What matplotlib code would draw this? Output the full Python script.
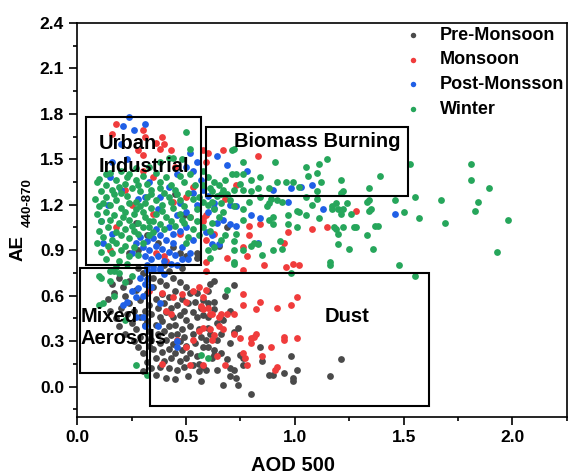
import matplotlib
matplotlib.use("Agg")
import matplotlib.pyplot as plt
from matplotlib.patches import Rectangle
from matplotlib.ticker import MultipleLocator

plt.rcParams['font.family'] = ['Liberation Sans', 'DejaVu Sans']
plt.rcParams['font.weight'] = 'bold'

# (AOD 500, AE 440-870) pairs
pre_monsoon = [
    (0.27, 1.08), (0.32, 1.00), (0.37, 0.95), (0.44, 0.92), (0.47, 0.88), (0.50, 0.86),
    (0.28, 0.90), (0.24, 0.88), (0.55, 0.88), (0.55, 0.85), (0.49, 1.13), (0.69, 1.05),
    (0.65, 0.93), (0.45, 1.27), (0.40, 0.80),
    (0.16, 0.68), (0.19, 0.72), (0.21, 0.66), (0.17, 0.62), (0.14, 0.58), (0.22, 0.60),
    (0.24, 0.70), (0.20, 0.52), (0.23, 0.48), (0.18, 0.45), (0.25, 0.42), (0.27, 0.38),
    (0.22, 0.35), (0.26, 0.30), (0.29, 0.33), (0.28, 0.26), (0.30, 0.22), (0.24, 0.55),
    (0.27, 0.64), (0.29, 0.57), (0.26, 0.50), (0.29, 0.46), (0.31, 0.41), (0.15, 0.50),
    (0.19, 0.40), (0.30, 0.75), (0.28, 0.78), (0.33, 0.72),
    (0.32, 0.62), (0.35, 0.66), (0.38, 0.70), (0.41, 0.67), (0.44, 0.72), (0.47, 0.69),
    (0.50, 0.66), (0.52, 0.62), (0.36, 0.58), (0.39, 0.61), (0.42, 0.59), (0.45, 0.63),
    (0.48, 0.58), (0.51, 0.55), (0.33, 0.54), (0.37, 0.52), (0.40, 0.55), (0.43, 0.52),
    (0.46, 0.54), (0.49, 0.50), (0.53, 0.49), (0.34, 0.48), (0.38, 0.46), (0.41, 0.49),
    (0.44, 0.46), (0.47, 0.47), (0.50, 0.44), (0.55, 0.46), (0.32, 0.43), (0.36, 0.41),
    (0.39, 0.43), (0.42, 0.40), (0.45, 0.41), (0.48, 0.38), (0.52, 0.40), (0.33, 0.37),
    (0.37, 0.35), (0.40, 0.37), (0.43, 0.34), (0.46, 0.35), (0.49, 0.33), (0.53, 0.35),
    (0.56, 0.38), (0.34, 0.31), (0.38, 0.29), (0.41, 0.31), (0.44, 0.28), (0.47, 0.30),
    (0.50, 0.27), (0.54, 0.29), (0.35, 0.25), (0.39, 0.23), (0.42, 0.25), (0.45, 0.22),
    (0.48, 0.24), (0.52, 0.22), (0.36, 0.19), (0.40, 0.17), (0.43, 0.19), (0.47, 0.17),
    (0.50, 0.19), (0.55, 0.20), (0.38, 0.13), (0.42, 0.12), (0.46, 0.11), (0.49, 0.13),
    (0.53, 0.14), (0.36, 0.08), (0.41, 0.06), (0.45, 0.05), (0.51, 0.07), (0.32, 0.16),
    (0.34, 0.12), (0.56, 0.10), (0.58, 0.26), (0.57, 0.33), (0.54, 0.56), (0.57, 0.52),
    (0.35, 0.72), (0.42, 0.76), (0.48, 0.78), (0.31, 0.50), (0.33, 0.27), (0.30, 0.10),
    (0.63, 0.70), (0.72, 0.67), (0.60, 0.63), (0.58, 0.57), (0.60, 0.55), (0.63, 0.56),
    (0.58, 0.47), (0.60, 0.46), (0.63, 0.51), (0.66, 0.45), (0.64, 0.42), (0.67, 0.44),
    (0.74, 0.39), (0.72, 0.36), (0.60, 0.39), (0.61, 0.35), (0.59, 0.31), (0.64, 0.31),
    (0.60, 0.26), (0.63, 0.24), (0.66, 0.22), (0.63, 0.21), (0.62, 0.19), (0.70, 0.29),
    (0.69, 0.18), (0.70, 0.12), (0.72, 0.11), (0.56, 0.15), (0.58, 0.13), (0.57, 0.04),
    (0.59, 0.11), (0.64, 0.11), (0.67, 0.01), (0.70, 0.07), (0.73, 0.06), (0.74, 0.01),
    (0.76, 0.19), (0.76, 0.14), (0.75, 0.21), (0.80, -0.05), (0.84, 0.26), (0.85, 0.17),
    (0.88, 0.08), (0.90, 0.08), (0.95, 0.09), (0.98, 0.20), (0.99, 0.06), (0.99, 0.04),
    (1.01, 0.11), (1.16, 0.07), (1.21, 0.18), (0.68, 0.60), (0.70, 0.50), (0.66, 0.35),
    (0.55, 0.62), (0.61, 0.68),
]

monsoon = [
    (0.18, 1.73), (0.16, 1.67), (0.30, 1.69), (0.31, 1.65), (0.39, 1.65), (0.36, 1.61),
    (0.38, 1.57), (0.28, 1.56), (0.30, 1.53), (0.43, 1.56), (0.40, 1.60), (0.58, 1.56),
    (0.60, 1.54), (0.67, 1.56), (0.83, 1.52), (0.59, 1.48), (0.73, 1.33), (0.68, 1.24),
    (0.59, 1.13), (0.84, 1.07), (0.79, 1.06), (0.79, 1.00), (0.76, 0.92), (1.08, 1.04),
    (1.15, 1.05), (1.28, 1.16), (0.97, 1.02), (0.95, 0.95), (0.69, 0.85), (0.76, 0.77),
    (0.86, 0.80), (0.96, 0.79), (0.99, 0.81), (1.02, 0.80), (0.59, 0.82), (0.59, 0.76),
    (0.63, 1.01), (0.58, 1.11), (0.78, 0.86),
    (0.18, 1.05), (0.35, 1.14), (0.47, 1.01), (0.40, 0.86), (0.41, 0.83), (0.36, 0.88),
    (0.58, 1.09), (0.59, 0.97), (0.52, 1.12), (0.22, 1.30), (0.35, 1.38), (0.45, 1.45),
    (0.15, 0.90), (0.25, 1.20), (0.30, 1.42), (0.44, 1.22), (0.53, 1.32), (0.50, 1.25),
    (0.76, 0.61), (0.84, 0.56), (0.76, 0.54), (0.82, 0.51), (0.92, 0.52), (0.98, 0.54),
    (1.01, 0.59), (0.72, 0.48), (0.69, 0.48), (0.66, 0.48), (0.65, 0.40), (0.67, 0.38),
    (0.72, 0.35), (0.75, 0.32), (0.80, 0.32), (0.81, 0.33), (0.82, 0.35), (0.80, 0.29),
    (0.89, 0.26), (0.95, 0.31), (0.95, 0.33), (1.01, 0.32), (0.76, 0.22), (0.77, 0.19),
    (0.85, 0.20), (0.92, 0.13), (0.91, 0.11), (0.78, 0.14), (0.68, 0.14), (0.58, 0.51),
    (0.60, 0.52), (0.62, 0.48), (0.58, 0.39), (0.61, 0.38), (0.63, 0.34), (0.62, 0.31),
    (0.33, 0.63), (0.39, 0.62), (0.44, 0.59), (0.48, 0.61), (0.50, 0.56), (0.53, 0.63),
    (0.56, 0.66), (0.59, 0.64), (0.58, 0.59), (0.57, 0.53), (0.61, 0.48), (0.65, 0.46),
    (0.56, 0.37), (0.53, 0.31), (0.50, 0.26), (0.46, 0.31), (0.52, 0.14), (0.58, 0.14),
    (0.64, 0.20), (0.41, 0.50), (0.43, 0.48), (0.39, 0.15),
]

post_monsoon = [
    (0.24, 1.78), (0.21, 1.72), (0.26, 1.69), (0.31, 1.73), (0.20, 1.60), (0.23, 1.50),
    (0.16, 1.48), (0.15, 1.38), (0.52, 1.54), (0.53, 1.42), (0.64, 1.52), (0.69, 1.46),
    (0.78, 1.42), (0.55, 1.48), (0.50, 1.45), (0.46, 1.40),
    (0.90, 1.30), (0.98, 1.31), (1.03, 1.32), (1.08, 1.33), (0.97, 1.22), (1.13, 1.17),
    (1.46, 1.14), (0.80, 1.13), (0.84, 1.11), (0.83, 0.95), (0.62, 0.94), (0.73, 1.06),
    (0.64, 1.08), (0.67, 1.10), (0.70, 1.07), (0.63, 1.18), (0.73, 1.19), (0.70, 1.20),
    (0.60, 1.15), (0.63, 1.21), (0.60, 1.26), (0.58, 1.30), (0.57, 1.36), (0.59, 1.02),
    (0.62, 1.00), (0.65, 0.94),
    (0.31, 1.25), (0.38, 1.25), (0.47, 1.21), (0.37, 1.17), (0.46, 1.13), (0.50, 1.15),
    (0.50, 1.05), (0.47, 1.03), (0.44, 1.01), (0.28, 1.24), (0.16, 1.01), (0.11, 1.09),
    (0.53, 0.97), (0.52, 0.88), (0.51, 0.84), (0.55, 1.20), (0.53, 1.28), (0.42, 1.32),
    (0.33, 1.35), (0.20, 1.30), (0.14, 1.20), (0.12, 0.95),
    (0.29, 0.99), (0.32, 0.96), (0.35, 0.98), (0.38, 1.00), (0.41, 0.97), (0.44, 0.95),
    (0.30, 0.92), (0.33, 0.90), (0.36, 0.93), (0.39, 0.91), (0.42, 0.89), (0.45, 0.87),
    (0.48, 0.92), (0.31, 0.86), (0.34, 0.84), (0.37, 0.86), (0.40, 0.83), (0.43, 0.81),
    (0.46, 0.80), (0.35, 0.79), (0.38, 0.78), (0.32, 0.80), (0.27, 0.95), (0.25, 0.88),
    (0.42, 1.05), (0.36, 1.04), (0.48, 0.84),
    (0.25, 0.63), (0.27, 0.59), (0.23, 0.56), (0.21, 0.54), (0.27, 0.46), (0.37, 0.40),
    (0.46, 0.26), (0.46, 0.30), (0.31, 0.68), (0.32, 0.71), (0.38, 0.55), (0.29, 0.72),
    (0.32, 0.77), (0.35, 0.77), (0.38, 0.77), (0.30, 0.46), (0.31, 0.40), (0.40, 0.74),
    (0.34, 0.66), (0.28, 0.65), (0.30, 0.60),
]

winter = [
    (1.53, 1.47), (1.81, 1.47), (1.81, 1.36), (1.89, 1.31), (1.84, 1.22), (1.83, 1.16),
    (1.98, 1.10), (1.93, 0.89), (1.67, 1.23), (1.69, 1.08), (1.55, 1.25), (1.46, 1.23),
    (1.50, 1.15), (1.57, 1.11), (1.48, 0.80), (1.55, 0.73), (1.39, 1.39),
    (0.71, 1.56), (0.76, 1.48), (0.91, 1.48), (1.15, 1.50), (1.11, 1.47), (1.05, 1.45),
    (1.10, 1.41), (1.06, 1.39), (1.21, 1.36), (1.12, 1.35), (1.34, 1.31), (1.22, 1.29),
    (1.10, 1.29), (0.96, 1.35), (0.92, 1.35), (0.99, 1.35), (1.02, 1.32), (0.88, 1.31),
    (0.80, 1.36), (0.84, 1.38), (0.71, 1.40), (0.73, 1.40), (0.76, 1.40), (0.72, 1.30),
    (0.76, 1.30), (0.67, 1.30), (0.62, 1.29),
    (0.94, 1.22), (0.92, 1.23), (0.89, 1.24), (1.05, 1.25), (1.10, 1.24), (1.17, 1.19),
    (1.08, 1.20), (1.01, 1.16), (1.02, 1.15), (1.05, 1.13), (1.11, 1.11), (0.97, 1.13),
    (1.20, 1.17), (1.22, 1.17), (1.21, 1.14), (1.34, 1.23), (1.35, 1.17), (1.37, 1.06),
    (1.27, 1.05), (1.22, 1.05), (1.20, 1.01), (1.18, 1.05), (1.01, 1.05), (0.97, 1.07),
    (0.90, 1.07), (0.93, 0.96), (0.90, 0.90), (1.20, 0.94), (1.25, 0.91), (1.36, 0.91),
    (1.16, 0.82), (1.16, 0.80), (0.98, 0.75), (0.84, 1.25), (0.87, 1.19), (0.88, 1.21),
    (0.90, 1.12), (0.88, 1.10), (0.79, 1.22), (0.76, 1.17), (0.72, 1.19), (0.70, 1.23),
    (0.66, 1.21), (0.63, 1.17), (0.76, 1.10), (0.73, 1.01), (0.72, 0.96), (0.80, 0.93),
    (0.85, 0.87), (0.72, 0.81), (0.61, 0.85), (0.61, 1.03), (0.62, 1.22), (1.24, 1.21),
    (1.21, 1.28), (1.19, 1.21), (1.17, 1.17), (1.26, 1.14), (1.28, 1.05), (1.33, 1.00),
    (1.19, 1.04), (1.33, 1.22), (1.34, 1.16), (1.38, 1.06), (0.76, 0.90), (0.72, 0.90),
    (0.81, 0.95), (0.83, 0.94), (0.94, 0.91), (0.72, 0.82), (0.69, 0.64), (0.60, 0.19),
    (0.57, 0.21),
    (0.58, 1.42), (0.60, 1.38), (0.63, 1.35), (0.65, 1.33), (0.58, 1.33), (0.61, 1.31),
    (0.64, 1.26), (0.66, 1.27), (0.69, 1.27), (0.58, 1.22), (0.60, 1.20), (0.67, 1.15),
    (0.65, 1.12), (0.58, 1.05), (0.62, 1.08), (0.68, 1.00), (0.66, 0.97), (0.63, 0.92),
    (0.60, 0.90), (0.68, 1.36), (0.75, 1.34), (0.80, 1.29), (0.83, 1.31),
    (0.11, 0.72), (0.15, 0.70), (0.22, 0.69), (0.12, 0.55), (0.10, 0.54), (0.27, 0.14),
    (0.32, 0.08), (0.22, 0.44), (0.17, 0.60), (0.25, 0.73), (0.10, 0.73), (0.15, 0.76),
    (0.17, 0.76), (0.19, 0.75),
    (0.50, 1.68), (0.42, 1.51), (0.44, 1.51), (0.52, 1.57), (0.72, 1.57), (0.10, 1.37),
    (0.48, 1.50), (0.38, 1.48), (0.33, 1.45), (0.27, 1.44), (0.20, 1.42), (0.13, 1.40),
    (0.15, 1.41), (0.24, 1.40), (0.30, 1.39), (0.36, 1.41), (0.41, 1.38), (0.47, 1.39),
    (0.52, 1.40), (0.09, 1.35), (0.13, 1.33), (0.18, 1.36), (0.22, 1.34), (0.27, 1.36),
    (0.32, 1.34), (0.38, 1.35), (0.43, 1.33), (0.49, 1.35), (0.54, 1.33), (0.11, 1.29),
    (0.16, 1.30), (0.20, 1.28), (0.25, 1.31), (0.29, 1.29), (0.34, 1.30), (0.40, 1.28),
    (0.45, 1.30), (0.51, 1.28), (0.08, 1.24), (0.13, 1.25), (0.18, 1.23), (0.23, 1.26),
    (0.27, 1.22), (0.32, 1.25), (0.36, 1.23), (0.42, 1.25), (0.47, 1.23), (0.53, 1.24),
    (0.10, 1.19), (0.15, 1.20), (0.20, 1.18), (0.24, 1.21), (0.29, 1.19), (0.34, 1.18),
    (0.39, 1.20), (0.44, 1.18), (0.49, 1.19), (0.09, 1.14), (0.13, 1.15), (0.17, 1.13),
    (0.22, 1.15), (0.26, 1.14), (0.31, 1.12), (0.36, 1.14), (0.41, 1.12), (0.47, 1.14),
    (0.52, 1.12), (0.11, 1.09), (0.15, 1.10), (0.19, 1.08), (0.24, 1.10), (0.28, 1.08),
    (0.33, 1.09), (0.38, 1.07), (0.43, 1.09), (0.49, 1.08), (0.10, 1.03), (0.14, 1.05),
    (0.18, 1.02), (0.22, 1.04), (0.26, 1.03), (0.30, 1.05), (0.35, 1.02), (0.40, 1.04),
    (0.45, 1.06), (0.53, 1.04), (0.12, 0.99), (0.16, 0.97), (0.20, 1.00), (0.24, 0.98),
    (0.28, 1.01), (0.33, 1.00), (0.51, 0.99), (0.09, 0.95), (0.14, 0.93), (0.18, 0.95),
    (0.22, 0.93), (0.26, 0.92), (0.30, 0.95), (0.11, 0.89), (0.16, 0.88), (0.20, 0.90),
    (0.24, 0.86), (0.28, 0.87), (0.13, 0.84), (0.19, 0.83), (0.23, 0.81), (0.18, 0.79),
    (0.27, 1.17), (0.31, 1.21), (0.21, 1.12), (0.34, 1.27), (0.25, 1.06), (0.17, 1.27),
    (0.38, 1.31), (0.30, 1.15), (0.35, 1.09), (0.19, 1.32), (0.28, 1.33), (0.23, 1.38),
    (0.12, 1.21), (0.43, 1.22), (0.46, 1.27), (0.39, 1.16), (0.33, 1.05), (0.48, 1.10),
    (0.55, 1.17), (0.56, 1.25), (0.55, 1.09), (0.56, 1.00), (0.50, 0.95),
]

series_names = ['Pre-Monsoon', 'Monsoon', 'Post-Monsson', 'Winter']
series_data = [pre_monsoon, monsoon, post_monsoon, winter]
series_colors = ['#4a4a4a', '#f03c3c', '#1f5fe6', '#26a65b']

# aerosol type regions: (aod min, ae min, aod max, ae max)
region_boxes = [(0.04, 0.80, 0.57, 1.78), (0.59, 1.26, 1.52, 1.71),
                (0.014, 0.09, 0.32, 0.78), (0.335, -0.13, 1.615, 0.75)]
region_labels = ['Urban\nIndustrial', 'Biomass Burning', 'Mixed\nAerosols', 'Dust']
label_pos = [(0.10, 1.53, 'left'), (0.72, 1.615, 'left'),
             (0.017, 0.39, 'left'), (1.24, 0.46, 'center')]

fig = plt.figure(figsize=(5.68, 4.76), dpi=100)
ax = fig.add_axes([0.136, 0.124, 0.862, 0.828])

for name, pts, col in zip(series_names, series_data, series_colors):
    xs = [p[0] for p in pts]
    ys = [p[1] for p in pts]
    ax.scatter(xs, ys, s=24, color=col, linewidths=0, label=name, zorder=2)

for (x0, y0, x1, y1) in region_boxes:
    ax.add_patch(Rectangle((x0, y0), x1 - x0, y1 - y0, fill=False,
                           edgecolor='black', linewidth=1.5, zorder=4))
for txt, (tx, ty, ha) in zip(region_labels, label_pos):
    ax.text(tx, ty, txt, ha=ha, va='center', fontsize=14.5, fontweight='bold',
            linespacing=1.25, zorder=5)

ax.set_xlim(0, 2.25)
ax.set_ylim(-0.2, 2.4)
ax.xaxis.set_major_locator(MultipleLocator(0.5))
ax.xaxis.set_minor_locator(MultipleLocator(0.25))
ax.yaxis.set_major_locator(MultipleLocator(0.3))
ax.yaxis.set_minor_locator(MultipleLocator(0.15))
ax.xaxis.set_major_formatter(matplotlib.ticker.FormatStrFormatter('%.1f'))
ax.yaxis.set_major_formatter(matplotlib.ticker.FormatStrFormatter('%.1f'))
ax.tick_params(which='major', direction='out', length=6, width=1.2,
               labelsize=12.5, top=False, right=False)
ax.tick_params(which='minor', direction='out', length=3, width=1.2,
               top=False, right=False)
for lbl in ax.get_xticklabels() + ax.get_yticklabels():
    lbl.set_fontweight('bold')
for sp in ax.spines.values():
    sp.set_linewidth(1.2)

ax.set_xlabel('AOD 500', fontsize=14.5, fontweight='bold')
ax.xaxis.set_label_coords(0.44, -0.10)
fig.text(0.032, 0.48, 'AE', rotation=90, ha='center', va='center',
         fontsize=13.5, fontweight='bold')
fig.text(0.048, 0.574, '440-870', rotation=90, ha='center', va='center',
         fontsize=9.5, fontweight='bold')

ax.legend(loc='upper left', bbox_to_anchor=(0.667, 0.99), frameon=False,
          scatterpoints=1, handlelength=1.0, handletextpad=1.0,
          borderpad=0, borderaxespad=0, labelspacing=0.42, markerscale=0.8,
          prop={'size': 13, 'weight': 'bold'})

fig.savefig('out.png', dpi=100)
